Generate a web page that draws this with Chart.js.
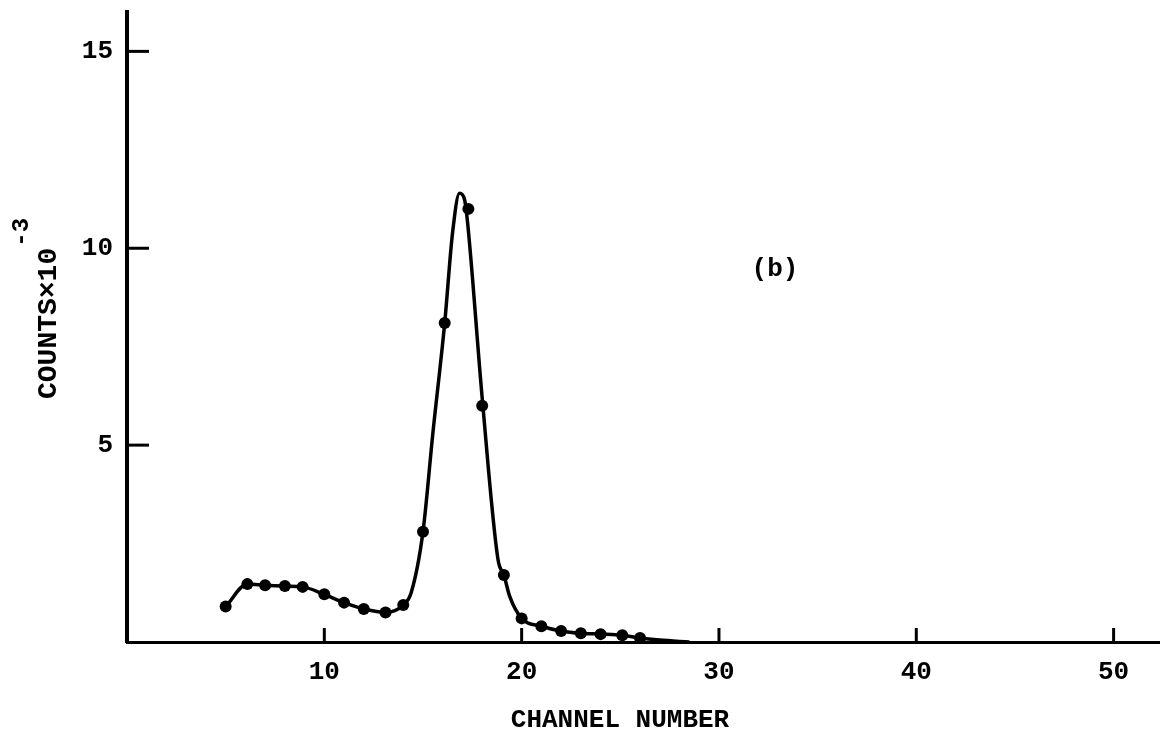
<!DOCTYPE html>
<html>
<head>
<meta charset="utf-8">
<script src="https://cdn.jsdelivr.net/npm/chart.js@4/dist/chart.umd.min.js"></script>
<style>
  html, body { margin: 0; padding: 0; background: #fff; }
  #wrap { width: 1165px; height: 732px; }
</style>
</head>
<body>
<div id="wrap"><canvas id="spectrumChart"></canvas></div>
<script>
// measured points (channel, counts x 10^-3)
var channels = [5, 6.1, 7, 8, 8.9, 10, 11, 12, 13.1, 14, 15, 16.1, 17.3, 18, 19.1, 20, 21, 22, 23, 24, 25.1, 26];
var counts = [0.9, 1.47, 1.44, 1.42, 1.4, 1.21, 1.0, 0.84, 0.75, 0.94, 2.8, 8.1, 11.0, 6.0, 1.7, 0.6, 0.4, 0.28, 0.22, 0.2, 0.17, 0.1];

// hand drawn curve
var curveChannels = [5, 6.1, 7, 8, 8.9, 10, 11, 12, 13.1, 14, 14.4, 15, 15.5, 16.1, 16.5, 16.85, 17.1, 17.25, 18, 18.8, 19.1, 19.4, 20, 21, 22, 23, 24, 25.1, 26, 27, 28.5];
var curveCounts = [0.9, 1.47, 1.44, 1.42, 1.4, 1.21, 1.0, 0.84, 0.75, 0.94, 1.25, 2.8, 5.3, 8.1, 10.4, 11.4, 11.25, 10.7, 6.2, 2.1, 1.7, 1.15, 0.6, 0.4, 0.28, 0.22, 0.2, 0.17, 0.1, 0.05, 0];

var xTicks = [10, 20, 30, 40, 50];
var yTicks = [5, 10, 15];

var FONT = '"Liberation Mono", "Courier New", monospace';

function toPoints(xs, ys) {
    return xs.map(function (x, i) { return { x: x, y: ys[i] }; });
}

// inward tick marks + titles
var decorations = {
    id: 'decorations',
    afterDraw: function (chart) {
        var ctx = chart.ctx;
        var xs = chart.scales.x, ys = chart.scales.y;
        var area = chart.chartArea;
        ctx.save();
        ctx.strokeStyle = '#000';
        ctx.lineWidth = 3;
        xTicks.forEach(function (v) {
            var px = xs.getPixelForValue(v);
            ctx.beginPath();
            ctx.moveTo(px, area.bottom);
            ctx.lineTo(px, area.bottom - 14);
            ctx.stroke();
        });
        yTicks.forEach(function (v) {
            var py = ys.getPixelForValue(v);
            ctx.beginPath();
            ctx.moveTo(area.left, py);
            ctx.lineTo(area.left + 22, py);
            ctx.stroke();
        });

        ctx.fillStyle = '#000';
        ctx.textBaseline = 'alphabetic';

        // x title
        ctx.font = 'bold 26px ' + FONT;
        ctx.textAlign = 'center';
        ctx.fillText('CHANNEL NUMBER', 620, 727);

        // panel label
        ctx.fillText('(b)', 775, 276);

        // y title, rotated, with superscript
        ctx.save();
        ctx.translate(56, 399);
        ctx.rotate(-Math.PI / 2);
        ctx.textAlign = 'left';
        ctx.font = 'bold 28px ' + FONT;
        ctx.fillText('COUNTS×10', 0, 0);
        var w = ctx.measureText('COUNTS×10').width;
        ctx.font = 'bold 24px ' + FONT;
        ctx.fillText('-3', w + 1, -28);
        ctx.restore();

        ctx.restore();
    }
};

var ctx = document.getElementById('spectrumChart').getContext('2d');
var chart = new Chart(ctx, {
    type: 'scatter',
    data: {
        datasets: [
            {
                label: 'curve',
                data: toPoints(curveChannels, curveCounts),
                showLine: true,
                borderColor: '#000',
                borderWidth: 3.5,
                pointRadius: 0,
                cubicInterpolationMode: 'monotone'
            },
            {
                label: 'points',
                data: toPoints(channels, counts),
                showLine: false,
                backgroundColor: '#000',
                borderColor: '#000',
                pointRadius: 6,
                pointBorderWidth: 0
            }
        ]
    },
    options: {
        responsive: true,
        maintainAspectRatio: false,
        animation: false,
        layout: { padding: { top: 12, right: 0, left: 0, bottom: 0 } },
        plugins: {
            legend: { display: false },
            tooltip: { enabled: false }
        },
        scales: {
            x: {
                type: 'linear',
                min: 0,
                max: 52.3,
                afterBuildTicks: function (s) { s.ticks = xTicks.map(function (v) { return { value: v }; }); },
                afterFit: function (s) { s.height = 90; s.paddingLeft = 0; s.paddingRight = 0; },
                grid: { display: false, drawTicks: false },
                border: { display: true, color: '#000', width: 3 },
                ticks: {
                    color: '#000',
                    padding: 15,
                    maxRotation: 0,
                    font: { family: FONT, size: 26, weight: 'bold' }
                }
            },
            y: {
                type: 'linear',
                min: 0,
                max: 16,
                afterBuildTicks: function (s) { s.ticks = yTicks.map(function (v) { return { value: v }; }); },
                afterFit: function (s) { s.width = 127; s.paddingTop = 0; s.paddingBottom = 0; },
                grid: { display: false, drawTicks: false },
                border: { display: true, color: '#000', width: 4 },
                ticks: {
                    color: '#000',
                    padding: 14,
                    font: { family: FONT, size: 26, weight: 'bold' }
                }
            }
        }
    },
    plugins: [decorations]
});
</script>
</body>
</html>
